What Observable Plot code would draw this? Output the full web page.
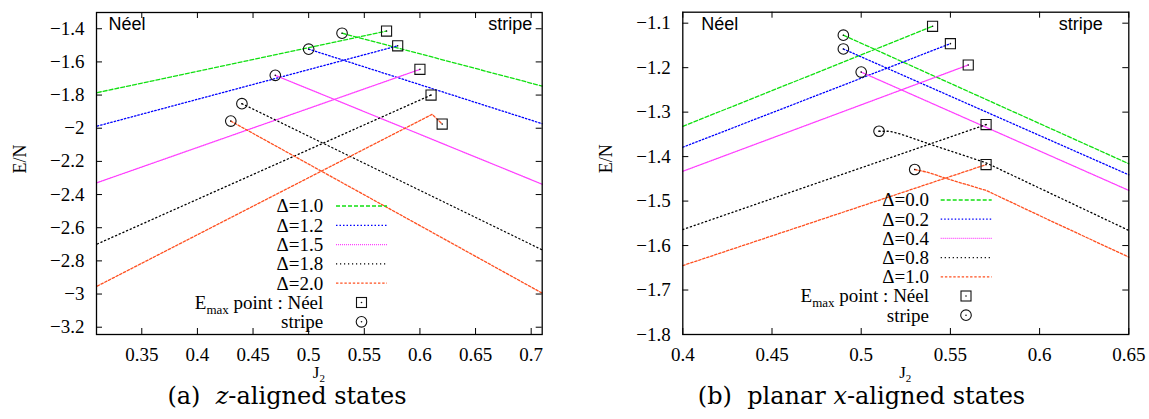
<!DOCTYPE html>
<html><head><meta charset="utf-8">
<script src="https://cdn.jsdelivr.net/npm/d3@7"></script>
<script src="https://cdn.jsdelivr.net/npm/@observablehq/plot@0.6"></script>
<style>
body{margin:0;background:#fff;}
#wrap{position:relative;width:1149px;height:419px;overflow:hidden;background:#fff;}
.panel{position:absolute;top:0;height:419px;}
.cap{position:absolute;top:385px;left:0;width:100%;text-align:center;font-family:"DejaVu Serif",serif;font-size:24px;line-height:22px;height:22px;color:#000;white-space:nowrap;}
</style></head><body><div id="wrap"></div>
<script>
// ---------- data: (a) z-aligned states ----------
const deltaZ = ["1.0", "1.2", "1.5", "1.8", "2.0"];
const neelZ_J2 = [[0.31, 0.57], [0.31, 0.58], [0.31, 0.60], [0.31, 0.61], [0.31, 0.611, 0.62]];
const neelZ_E  = [[-1.785, -1.414], [-1.987, -1.503], [-2.328, -1.645], [-2.698, -1.800], [-2.952, -1.916, -1.975]];
const stripeZ_J2 = [[0.53, 0.71], [0.50, 0.71], [0.47, 0.71], [0.44, 0.71], [0.43, 0.71]];
const stripeZ_E  = [[-1.427, -1.746], [-1.523, -1.973], [-1.681, -2.338], [-1.852, -2.734], [-1.957, -2.995]];
const xTicksZ = [0.35, 0.4, 0.45, 0.5, 0.55, 0.6, 0.65, 0.7];
const yTicksZ = [-1.4, -1.6, -1.8, -2, -2.2, -2.4, -2.6, -2.8, -3, -3.2];

// ---------- data: (b) planar x-aligned states ----------
const deltaX = ["0.0", "0.2", "0.4", "0.8", "1.0"];
const neelX_J2 = [[0.40, 0.54], [0.40, 0.55], [0.40, 0.56], [0.40, 0.57], [0.40, 0.57]];
const neelX_E  = [[-1.332, -1.107], [-1.379, -1.146], [-1.433, -1.194], [-1.564, -1.328], [-1.645, -1.418]];
const stripeX_J2 = [[0.49, 0.65], [0.49, 0.65], [0.50, 0.65],
  [0.51, 0.516, 0.521, 0.527, 0.537, 0.57, 0.65],
  [0.53, 0.537, 0.55, 0.57, 0.606, 0.65]];
const stripeX_E  = [[-1.127, -1.416], [-1.158, -1.441], [-1.210, -1.476],
  [-1.343, -1.343, -1.348, -1.356, -1.370, -1.414, -1.566],
  [-1.429, -1.435, -1.452, -1.476, -1.544, -1.626]];
const xTicksX = [0.4, 0.45, 0.5, 0.55, 0.6, 0.65];
const yTicksX = [-1.1, -1.2, -1.3, -1.4, -1.5, -1.6, -1.7, -1.8];

// ---------- styles ----------
const colors = ["#10e010", "#0000ff", "#ff40ff", "#000000", "#ff5020"];
const dashes = ["4,2", "1.5,2", "1,1", "1.2,2.8", "2.4,1.8"];
const serif = "'Liberation Serif', 'Times New Roman', serif";
const sans = "'Liberation Sans', sans-serif";
const fmt = d => (d < 0 ? "\u2212" : "") + Math.abs(d);

function rows(j2, e) {
  return j2.flatMap((xs, s) => xs.map((x, k) => ({s, x, y: e[s][k]})));
}

function panel(cfg) {
  const height = 390;
  const marginBottom = height - cfg.frameBottom;
  const frameW = cfg.width - cfg.marginLeft - cfg.marginRight;
  const frameH = cfg.frameBottom - cfg.marginTop;
  const neel = rows(cfg.neelJ2, cfg.neelE);
  const stripe = rows(cfg.stripeJ2, cfg.stripeE);
  const marks = [];
  cfg.deltas.forEach((d, i) => {
    const st = {x: "x", y: "y", stroke: colors[i], strokeWidth: 1.3, strokeDasharray: dashes[i]};
    marks.push(Plot.line(neel.filter(r => r.s === i), st));
    marks.push(Plot.line(stripe.filter(r => r.s === i), st));
  });
  marks.push(
    Plot.dot(neel, Plot.selectLast({x: "x", y: "y", z: "s", symbol: "square", r: 5.7, stroke: "#111", strokeWidth: 1.1, fill: "none"})),
    Plot.dot(neel, Plot.selectLast({x: "x", y: "y", z: "s", r: 0.8, fill: "#111", stroke: "none"})),
    Plot.dot(stripe, Plot.selectFirst({x: "x", y: "y", z: "s", r: 5.3, stroke: "#111", strokeWidth: 1.1, fill: "none"})),
    Plot.dot(stripe, Plot.selectFirst({x: "x", y: "y", z: "s", r: 0.8, fill: "#111", stroke: "none"})),
    Plot.tickX(cfg.xTicks, {x: d => d, insetTop: frameH - 6, stroke: "#000", strokeWidth: 1}),
    Plot.tickX(cfg.xTicks, {x: d => d, insetBottom: frameH - 6, stroke: "#000", strokeWidth: 1}),
    Plot.tickY(cfg.yTicks, {y: d => d, insetRight: frameW - 6, stroke: "#000", strokeWidth: 1}),
    Plot.tickY(cfg.yTicks, {y: d => d, insetLeft: frameW - 6, stroke: "#000", strokeWidth: 1}),
    Plot.frame({stroke: "#000", strokeWidth: 1.3}),
    Plot.axisX({ticks: cfg.xTicks, tickSize: 0, tickPadding: 13, tickFormat: fmt, label: null, fontSize: 19}),
    Plot.axisY({ticks: cfg.yTicks, tickSize: 0, tickPadding: 12, tickFormat: fmt, label: null, fontSize: 19}),
    Plot.text(["E/N"], {text: d => d, frameAnchor: "left", dx: cfg.yLabelDx, rotate: -90, fontSize: 18}),
    Plot.text(["N\u00e9el"], {text: d => d, frameAnchor: "top-left", dx: cfg.neelDx, dy: 5, textAnchor: "start", lineAnchor: "top", fontSize: 18, fontFamily: sans}),
    Plot.text(["stripe"], {text: d => d, frameAnchor: "top-right", dx: cfg.stripeDx, dy: 5, textAnchor: "end", lineAnchor: "top", fontSize: 18, fontFamily: sans})
  );
  const svgEl = Plot.plot({
    width: cfg.width, height,
    marginLeft: cfg.marginLeft, marginRight: cfg.marginRight, marginTop: cfg.marginTop, marginBottom,
    x: {domain: cfg.xDomain},
    y: {domain: cfg.yDomain},
    style: {fontSize: "19px", color: "#000", background: "transparent"},
    marks
  });
  const svg = d3.select(svgEl);
  svg.selectAll("text")
    .filter(function () { return /^[\u2212\d.]+$/.test(this.textContent); })
    .style("font-family", serif).style("font-size", "19px");
  svg.selectAll("text")
    .filter(function () { return this.textContent === "E/N"; })
    .style("font-family", serif).style("font-size", "18px");
  // x-axis label J_2
  const jl = svg.append("text").style("font-family", serif).attr("x", cfg.marginLeft + frameW / 2).attr("y", 378)
    .attr("text-anchor", "middle").style("font-size", "17px").attr("fill", "#000");
  jl.append("tspan").text("J");
  jl.append("tspan").attr("dy", 4).style("font-size", "11px").text("2");
  // legend
  const L = cfg.legend;
  const g = svg.append("g").attr("fill", "#000");
  const rowY = i => L.y0 + i * L.dy;
  const lt = (x, y) => g.append("text").style("font-family", serif).style("font-size", "19px")
    .attr("x", x).attr("y", y).attr("text-anchor", "end");
  cfg.deltas.forEach((d, i) => {
    lt(L.textRight, rowY(i) + 6.3).text("\u0394=" + d);
    g.append("line").attr("x1", L.lineX1).attr("x2", L.lineX2).attr("y1", rowY(i)).attr("y2", rowY(i))
      .attr("stroke", colors[i]).attr("stroke-width", 1.3).attr("stroke-dasharray", dashes[i]);
  });
  const n = cfg.deltas.length;
  const et = lt(L.textRight, rowY(n) + 6.3);
  et.append("tspan").text("E");
  et.append("tspan").attr("dy", 5).style("font-size", "13px").text("max");
  et.append("tspan").attr("dy", -5).text(" point : N\u00e9el");
  g.append("rect").attr("x", L.markX - 5).attr("y", rowY(n) - 5).attr("width", 10).attr("height", 10)
    .attr("fill", "none").attr("stroke", "#111").attr("stroke-width", 1.1);
  g.append("circle").attr("cx", L.markX).attr("cy", rowY(n)).attr("r", 0.8).attr("fill", "#111");
  lt(L.textRight, rowY(n + 1) + 6.3).text("stripe");
  g.append("circle").attr("cx", L.markX).attr("cy", rowY(n + 1)).attr("r", 5.3)
    .attr("fill", "none").attr("stroke", "#111").attr("stroke-width", 1.1);
  g.append("circle").attr("cx", L.markX).attr("cy", rowY(n + 1)).attr("r", 0.8).attr("fill", "#111");

  const div = document.createElement("div");
  div.className = "panel";
  div.style.left = cfg.left + "px";
  div.style.width = cfg.width + "px";
  div.appendChild(svgEl);
  const cap = document.createElement("div");
  cap.className = "cap";
  cap.innerHTML = cfg.caption;
  div.appendChild(cap);
  document.getElementById("wrap").appendChild(div);
}

panel({
  left: 0, width: 574, marginLeft: 96, marginRight: 32.3, marginTop: 12, frameBottom: 334,
  xDomain: [0.3093, 0.7099], yDomain: [-3.244, -1.302],
  xTicks: xTicksZ, yTicks: yTicksZ,
  deltas: deltaZ, neelJ2: neelZ_J2, neelE: neelZ_E, stripeJ2: stripeZ_J2, stripeE: stripeZ_E,
  yLabelDx: -76, neelDx: 12, stripeDx: -10,
  legend: {textRight: 323.3, lineX1: 336, lineX2: 387, markX: 361.5, y0: 206, dy: 19.3},
  caption: "(a)&nbsp; <i>z</i>-aligned states"
});

panel({
  left: 574, width: 575, marginLeft: 108.3, marginRight: 20.7, marginTop: 11.7, frameBottom: 334,
  xDomain: [0.4, 0.65], yDomain: [-1.8, -1.0753],
  xTicks: xTicksX, yTicks: yTicksX,
  deltas: deltaX, neelJ2: neelX_J2, neelE: neelX_E, stripeJ2: stripeX_J2, stripeE: stripeX_E,
  yLabelDx: -77, neelDx: 18.4, stripeDx: -26,
  legend: {textRight: 355, lineX1: 366.7, lineX2: 417.7, markX: 392, y0: 200, dy: 19.2},
  caption: "(b)&nbsp; planar <i>x</i>-aligned states"
});
</script></body></html>
